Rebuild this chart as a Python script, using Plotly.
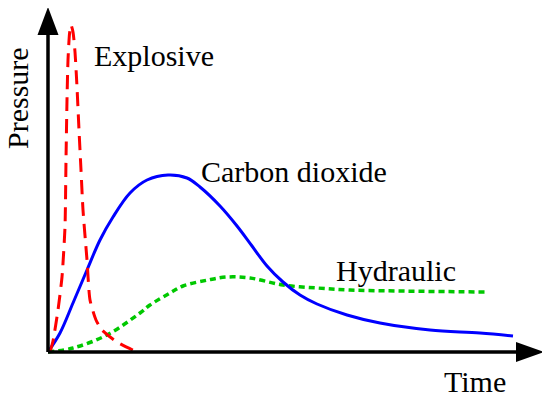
import plotly.graph_objects as go

# Time / pressure values (arbitrary units)
explosive_t = [2, 5, 10, 14, 17, 18, 19, 20, 21.5, 23, 25, 27, 29, 31, 33, 35, 39, 42, 48, 54, 69, 89]
explosive_p = [0, 11, 42, 75, 125, 192, 252, 292, 318, 327, 320, 300, 265, 222, 182, 142, 92, 52, 32, 22, 10, 0]

co2_t = [0, 12, 25, 39, 52, 65, 82, 99, 120, 139, 152, 172, 189, 204, 219, 235, 252, 269, 299, 332, 382, 432, 465]
co2_p = [0, 19, 49, 82, 112, 135, 159, 172, 177, 174, 165, 146, 126, 106, 86, 70, 57, 48, 37, 29, 22, 19, 16]

hyd_t = [0, 25, 59, 92, 102, 122, 135, 160, 179, 202, 235, 269, 302, 349, 440]
hyd_p = [0, 4, 17, 39, 47, 59, 66, 72, 75, 74, 67, 64, 62, 61, 60]

labels = {"Explosive": (45, 297), "Carbon dioxide": (152, 181), "Hydraulic": (287, 82)}

FONT = "Liberation Serif"
fig = go.Figure()
fig.add_trace(go.Scatter(x=hyd_t, y=hyd_p, mode="lines", line=dict(color="#00C800", width=3.5, dash="6px,4px", shape="spline", smoothing=1.0)))
fig.add_trace(go.Scatter(x=co2_t, y=co2_p, mode="lines", line=dict(color="#0000FF", width=3, shape="spline", smoothing=1.0)))
fig.add_trace(go.Scatter(x=explosive_t, y=explosive_p, mode="lines", line=dict(color="#FF0000", width=3, dash="14px,8px", shape="spline", smoothing=0.6)))

# axes with arrows
fig.add_shape(type="line", x0=0, y0=0, x1=0, y1=322, line=dict(color="black", width=3.5))
fig.add_shape(type="line", x0=0, y0=0, x1=472, y1=0, line=dict(color="black", width=3.5))
fig.add_shape(type="path", path="M -10.5,317 L 10.5,317 L 0,345 Z", fillcolor="black", line=dict(width=0))
fig.add_shape(type="path", path="M 468,10 L 468,-10 L 496,0 Z", fillcolor="black", line=dict(width=0))

for txt, (x, y) in labels.items():
    fig.add_annotation(x=x, y=y, text=txt, showarrow=False, xanchor="left", yanchor="middle",
                       font=dict(family=FONT, size=30, color="black"), borderpad=0)
fig.add_annotation(x=395, y=-29, text="Time", showarrow=False, xanchor="left", yanchor="middle",
                   font=dict(family=FONT, size=30, color="black"), borderpad=0)
fig.add_annotation(x=-31, y=254, text="Pressure", showarrow=False, textangle=-90, xanchor="center", yanchor="middle",
                   font=dict(family=FONT, size=30, color="black"), borderpad=0)

fig.update_layout(width=550, height=397, margin=dict(l=0, r=0, t=0, b=0),
                  paper_bgcolor="white", plot_bgcolor="white", showlegend=False,
                  xaxis=dict(range=[-40, 510], visible=False, fixedrange=True),
                  yaxis=dict(range=[-53, 344], visible=False, fixedrange=True))
fig.write_html("out.html")
